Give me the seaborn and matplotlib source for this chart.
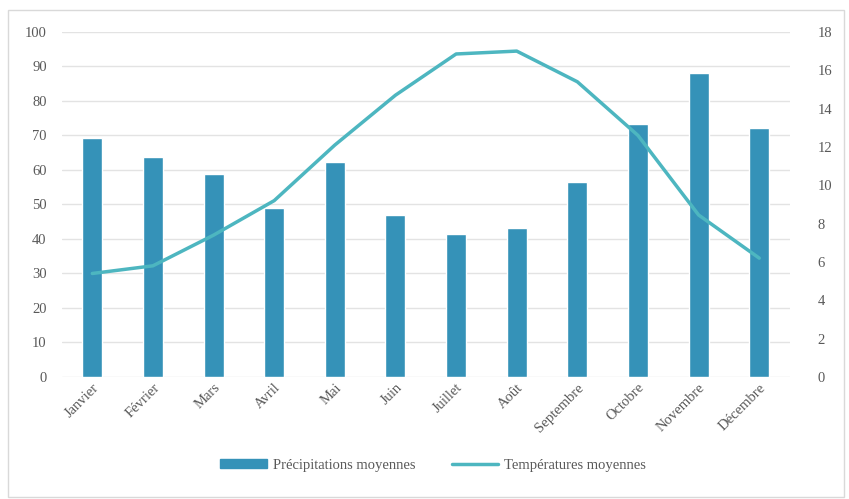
import matplotlib.pyplot as plt
import numpy as np
import pandas as pd
import seaborn as sns
from matplotlib.patches import Rectangle
from matplotlib.lines import Line2D
from matplotlib.patches import Patch

months = ["Janvier", "Février", "Mars", "Avril", "Mai", "Juin", "Juillet",
          "Août", "Septembre", "Octobre", "Novembre", "Décembre"]
precip = [69.3, 63.8, 58.8, 48.9, 62.4, 47.0, 41.4, 43.2, 56.5, 73.3, 88.1, 72.2]
temp = [5.4, 5.8, 7.4, 9.2, 12.1, 14.7, 16.85, 17.0, 15.4, 12.6, 8.45, 6.2]

bar_color = "#3592B8"
line_color = "#4DB6C0"
text_color = "#595959"

sns.set_theme(style="white")
plt.rcParams["font.family"] = ["Liberation Serif", "DejaVu Serif"]

df = pd.DataFrame({"mois": months, "precip": precip, "temp": temp, "pos": np.arange(len(months))})

fig = plt.figure(figsize=(8.49, 4.99), dpi=100)
ax = fig.add_axes([0.073, 0.2445, 0.857, 0.6915])

sns.barplot(data=df, x="mois", y="precip", color=bar_color, width=0.33,
            saturation=1, ax=ax, zorder=3)
ax.set_ylim(0, 100)
ax.set_xlim(-0.5, 11.5)
ax.set_yticks(range(0, 101, 10))
ax.yaxis.grid(True, color="#E3E3E3", linewidth=1)
ax.set_axisbelow(True)
ax.set_xlabel("")
ax.set_ylabel("")
for s in ax.spines.values():
    s.set_visible(False)
ax.tick_params(axis="y", length=0, labelsize=10.5, colors=text_color, pad=11)
ax.tick_params(axis="x", length=0, labelsize=10.5, colors=text_color, pad=3)
plt.setp(ax.get_xticklabels(), rotation=45, ha="right", rotation_mode="anchor")

ax2 = ax.twinx()
sns.lineplot(data=df, x="pos", y="temp", color=line_color, linewidth=2.5, ax=ax2)
ax2.set_ylim(0, 18)
ax2.set_yticks(range(0, 19, 2))
ax2.set_xlim(-0.5, 11.5)
ax2.set_ylabel("")
for s in ax2.spines.values():
    s.set_visible(False)
ax2.tick_params(axis="y", length=0, labelsize=10.5, colors=text_color, pad=20)

handles = [Patch(facecolor=bar_color, edgecolor=bar_color),
           Line2D([0], [0], color=line_color, linewidth=2.5)]
fig.legend(handles, ["Précipitations moyennes", "Températures moyennes"],
           loc="center", bbox_to_anchor=(0.51, 0.068), ncol=2, frameon=False,
           fontsize=10.5, labelcolor=text_color, handlelength=3.2,
           handleheight=0.6, columnspacing=2.5, handletextpad=0.4)

fig.patches.append(Rectangle((0.009, 0.004), 0.985, 0.975, transform=fig.transFigure,
                             fill=False, edgecolor="#D9D9D9", linewidth=1))

fig.savefig("out.png", dpi=100)
